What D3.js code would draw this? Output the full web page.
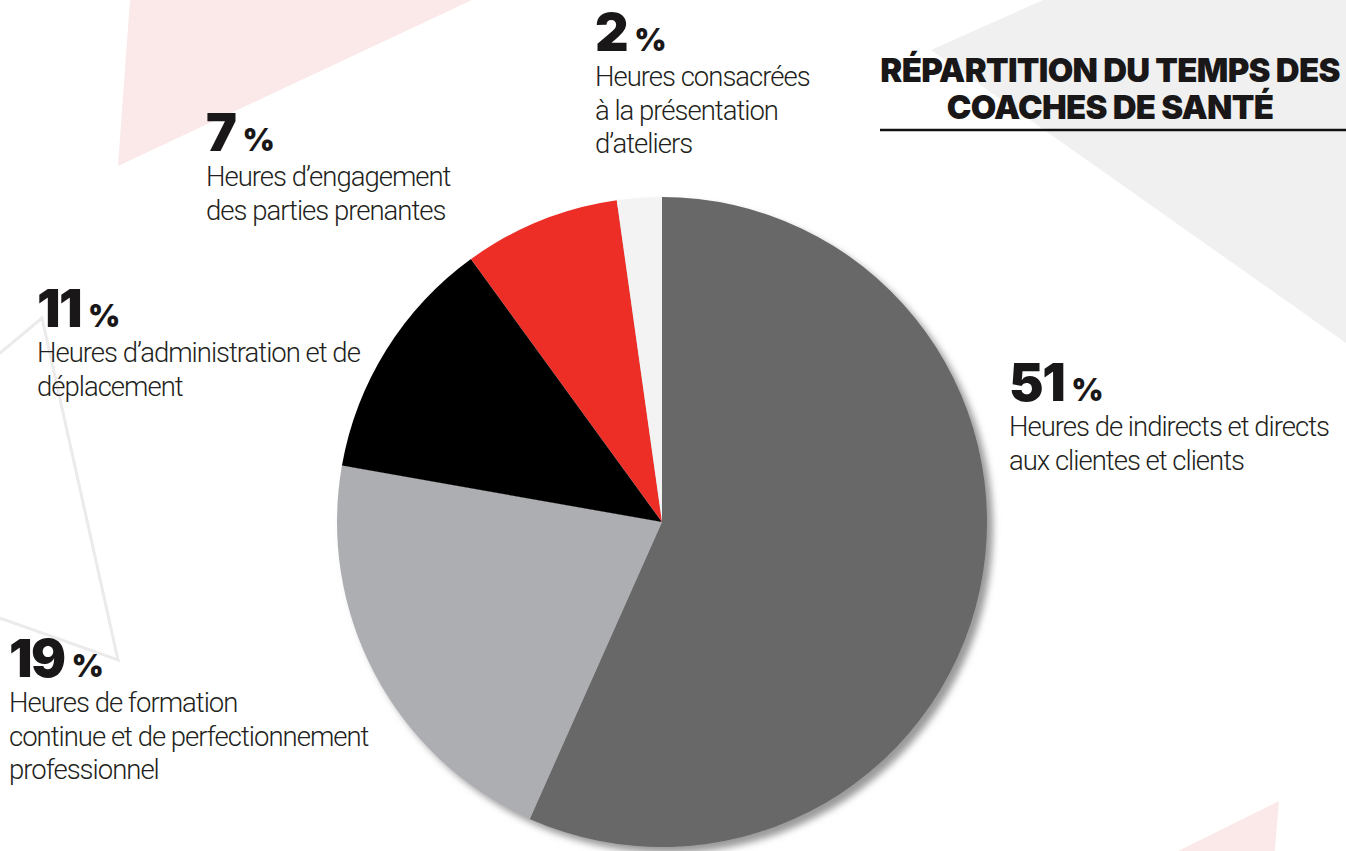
<!DOCTYPE html>
<html lang="fr">
<head>
<meta charset="utf-8">
<script src="https://cdn.jsdelivr.net/npm/d3@7"></script>
<style>
  html, body { margin: 0; padding: 0; background: #ffffff; }
  svg { display: block; }
  .num { font-family: Inter, Roboto, sans-serif; font-weight: 900; fill: #1a1718; }
  .desc { font-family: Roboto, "Liberation Sans", sans-serif; font-weight: 300; fill: #231f20; }
  .title { font-family: Inter, Roboto, sans-serif; font-weight: 900; fill: #1a1718; }
</style>
</head>
<body>
<script>
// Share of health coaches' working time, by activity (percent)
const categories = [
  "Heures de indirects et directs aux clientes et clients",
  "Heures de formation continue et de perfectionnement professionnel",
  "Heures d’administration et de déplacement",
  "Heures d’engagement des parties prenantes",
  "Heures consacrées à la présentation d’ateliers"
];
const values = [51, 19, 11, 7, 2];
const colors = ["#676769", "#adaeb1", "#000000", "#ec2e25", "#f3f3f3"];

// Label text, split into lines as typeset
const labelLines = [
  ["Heures de indirects et directs", "aux clientes et clients"],
  ["Heures de formation", "continue et de perfectionnement", "professionnel"],
  ["Heures d’administration et de", "déplacement"],
  ["Heures d’engagement", "des parties prenantes"],
  ["Heures consacrées", "à la présentation", "d’ateliers"]
];
// Anchor (left x, baseline of the figure) of each label block
const labelAnchors = [
  [1009, 401],
  [9, 677],
  [37, 327],
  [206, 151],
  [595, 51]
];
const titleLines = ["RÉPARTITION DU TEMPS DES", "COACHES DE SANTÉ"];

const W = 1346, H = 851;
const cx = 662, cy = 522, R = 325;

const svg = d3.select("body").append("svg")
  .attr("width", W).attr("height", H)
  .attr("viewBox", `0 0 ${W} ${H}`);

const defs = svg.append("defs");
const shadow = defs.append("filter").attr("id", "pieShadow")
  .attr("x", "-10%").attr("y", "-10%").attr("width", "125%").attr("height", "125%");
shadow.append("feDropShadow")
  .attr("dx", 6).attr("dy", 6).attr("stdDeviation", 3.5)
  .attr("flood-color", "#7a787a").attr("flood-opacity", 0.75);

// Decorative background triangles
const deco = svg.append("g").attr("class", "deco");
deco.append("path")
  .attr("d", d3.line()([[130, 0], [472, 0], [118, 166]]) + "Z")
  .attr("fill", "#fbe9ea");
deco.append("path")
  .attr("d", d3.line()([[1043, 0], [1346, 0], [1346, 343], [931, 50]]) + "Z")
  .attr("fill", "#eff0ef");
deco.append("path")
  .attr("d", d3.line()([[42, 318], [118, 660], [-223, 539]]) + "Z")
  .attr("fill", "none").attr("stroke", "#ebebeb").attr("stroke-width", 3);
deco.append("path")
  .attr("d", d3.line()([[1279, 801], [1274, 860], [1160, 860]]) + "Z")
  .attr("fill", "#fbe9ea");

// Pie
const pie = d3.pie().sort(null).value(d => d)
  .startAngle(0).endAngle(2 * Math.PI);
const arc = d3.arc().innerRadius(0).outerRadius(R);

const pieG = svg.append("g")
  .attr("transform", `translate(${cx},${cy})`)
  .attr("filter", "url(#pieShadow)");
pieG.selectAll("path")
  .data(pie(values))
  .join("path")
  .attr("d", arc)
  .attr("fill", (d, i) => colors[i])
  .append("title").text((d, i) => `${categories[i]} : ${values[i]} %`);

// Labels
const labels = svg.append("g").attr("class", "labels");
values.forEach((v, i) => {
  const [x, y] = labelAnchors[i];
  const g = labels.append("g").attr("transform", `translate(${x},${y})`);
  const t = g.append("text").attr("class", "num").attr("x", 0).attr("y", 0);
  t.append("tspan").attr("font-size", 52).attr("letter-spacing", -1.5).text(v);
  t.append("tspan").attr("font-size", 31).attr("dx", 7).text("%");
  labelLines[i].forEach((line, j) => {
    g.append("text").attr("class", "desc")
      .attr("x", 0).attr("y", 35 + j * 33.5)
      .attr("font-size", 27.5).attr("letter-spacing", -1)
      .text(line);
  });
});

// Title
const title = svg.append("g").attr("class", "title-block");
titleLines.forEach((line, j) => {
  title.append("text").attr("class", "title")
    .attr("x", 1110).attr("y", 82 + j * 37)
    .attr("text-anchor", "middle")
    .attr("font-size", 33).attr("letter-spacing", -0.7)
    .text(line);
});
title.append("line")
  .attr("x1", 880).attr("x2", W).attr("y1", 130).attr("y2", 130)
  .attr("stroke", "#111").attr("stroke-width", 2.5);
</script>
</body>
</html>
